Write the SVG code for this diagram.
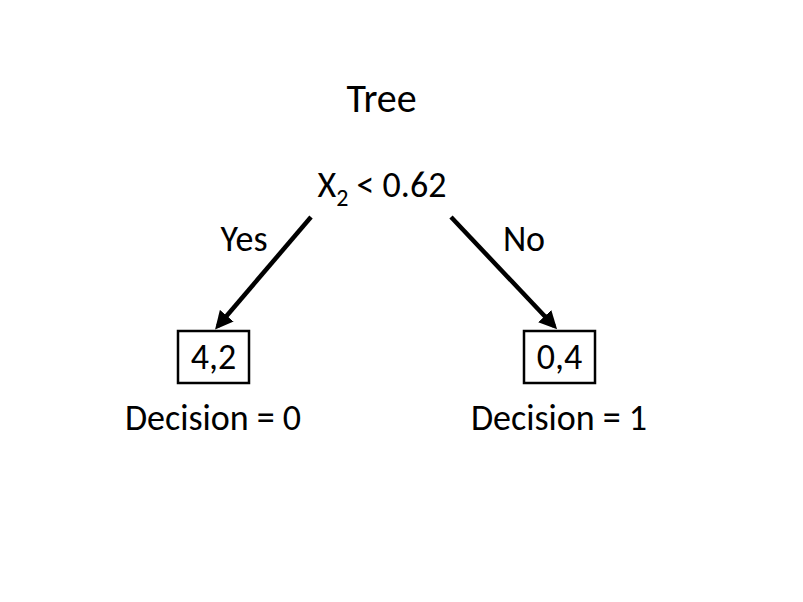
<svg xmlns="http://www.w3.org/2000/svg" width="803" height="602" viewBox="0 0 803 602">
<style>
text{font-family:Carlito,Lato,"Liberation Sans",sans-serif;fill:#000;text-anchor:middle}
.t{font-size:40px}
.m{font-size:36px}
.box{fill:#fff;stroke:#000;stroke-width:2.5}
.edge{stroke:#000;stroke-width:4.5;fill:none}
</style>
<defs>
<marker id="ah" markerWidth="4" markerHeight="4" refX="3" refY="2" orient="auto" markerUnits="strokeWidth">
<path d="M0,0 L4,2 L0,4 Z" fill="#000"/>
</marker>
</defs>
<rect width="803" height="602" fill="#fff"/>
<text class="t" x="381.5" y="112">Tree</text>
<g id="root"><text class="m" x="382" y="197">X<tspan font-size="24" dy="9">2</tspan><tspan dy="-9"> &lt; 0.62</tspan></text></g>
<g id="connectors">
<line class="edge" x1="311" y1="217" x2="218" y2="326" marker-end="url(#ah)"/>
<line class="edge" x1="451" y1="217" x2="554" y2="326" marker-end="url(#ah)"/>
<text class="m" x="244" y="251">Yes</text>
<text class="m" x="524" y="251">No</text>
</g>
<g id="left">
<rect class="box" x="178" y="331" width="71" height="52"/>
<text class="m" x="213.5" y="369">4,2</text>
<text class="m" x="213" y="430">Decision = 0</text>
</g>
<g id="right">
<rect class="box" x="524" y="331" width="71" height="52"/>
<text class="m" x="559.5" y="369">0,4</text>
<text class="m" x="559" y="430">Decision = 1</text>
</g>
</svg>
